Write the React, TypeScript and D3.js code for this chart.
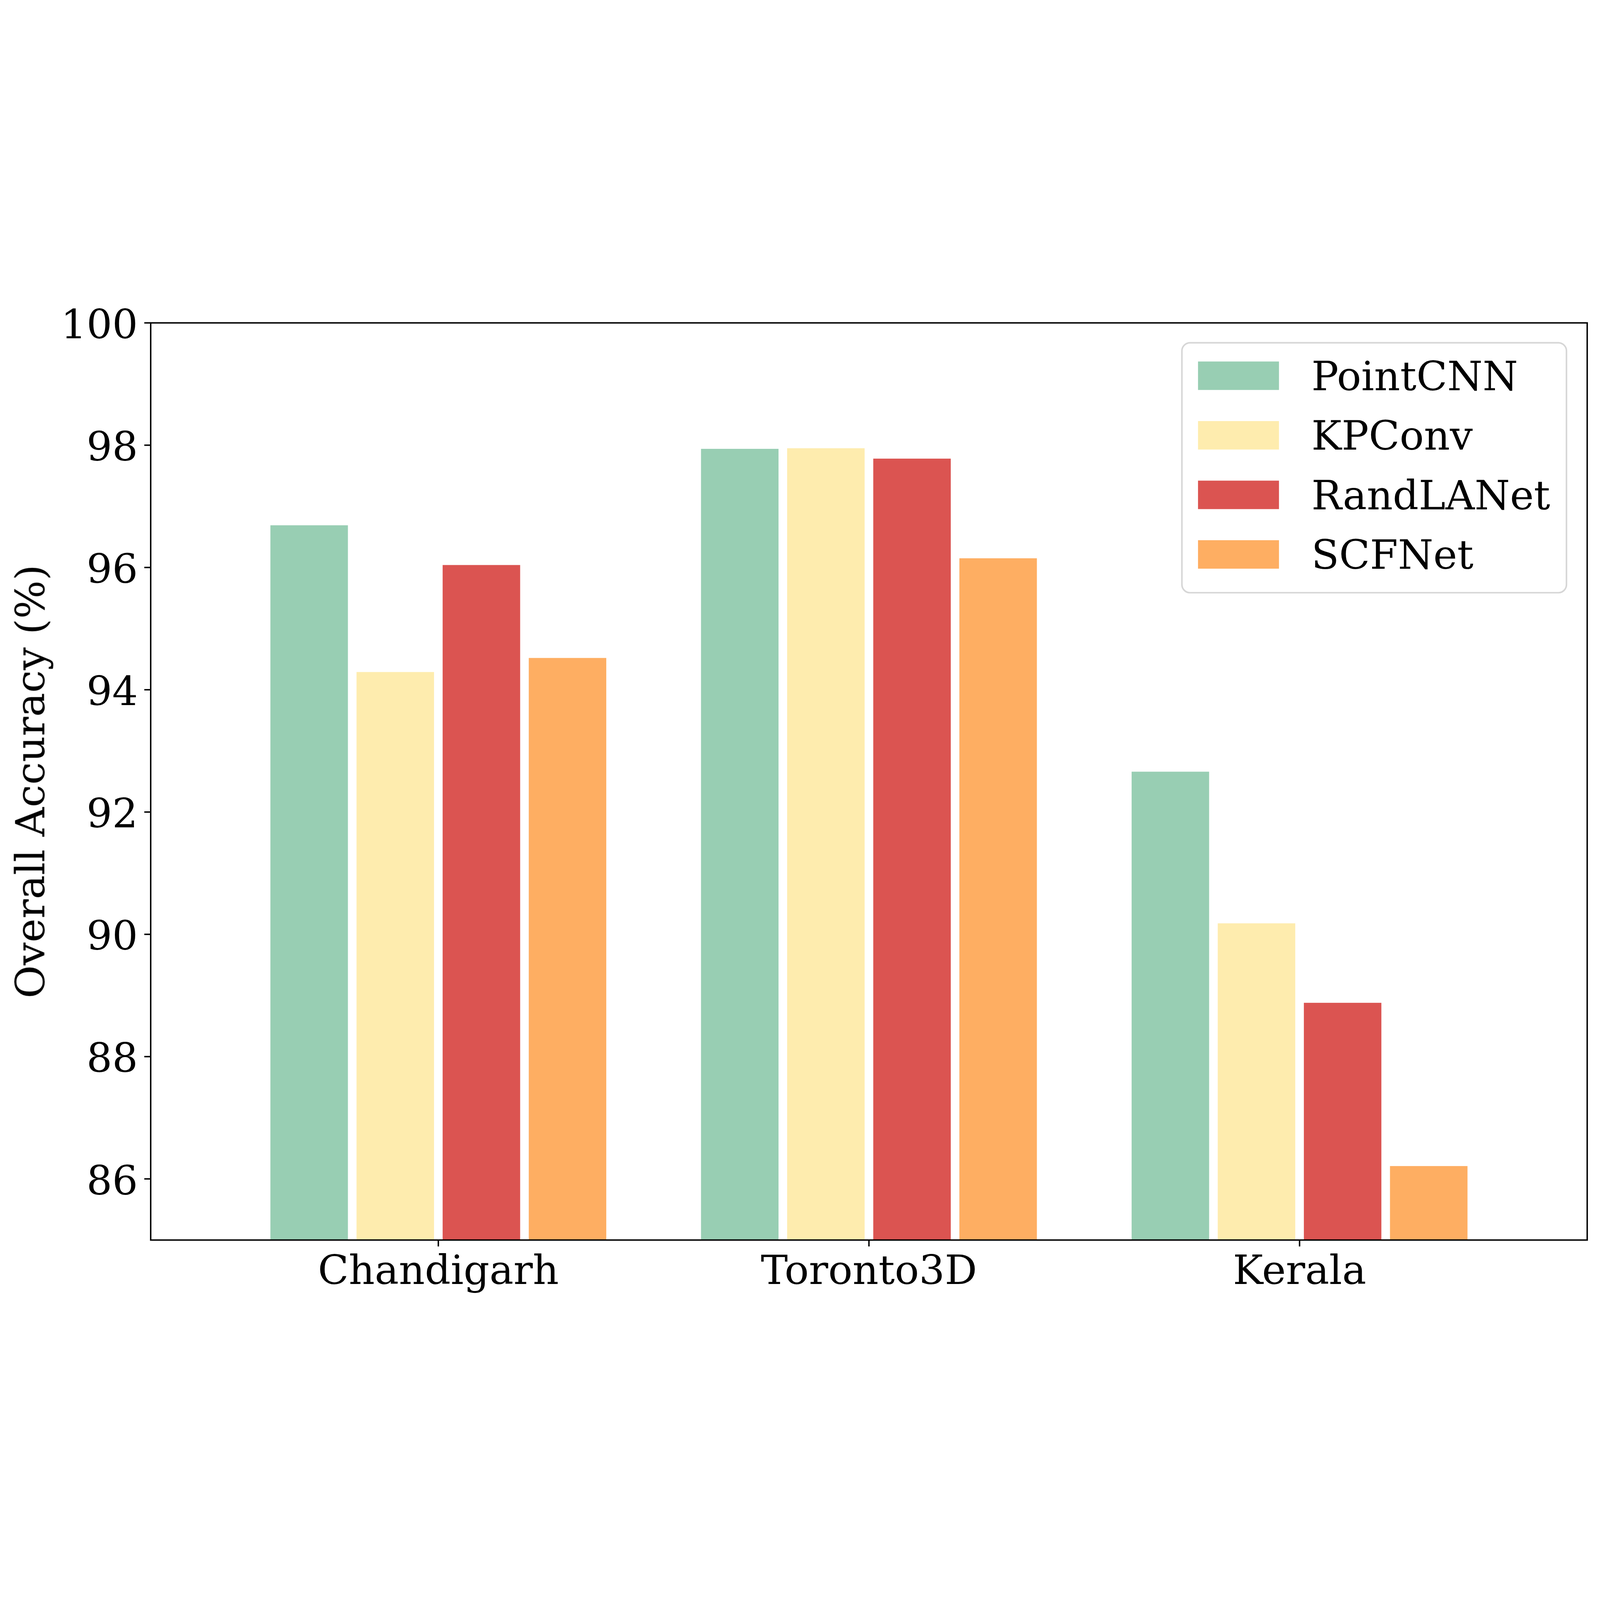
import React, { useEffect, useRef } from 'react';
import * as d3 from 'd3';

const datasets = ['Chandigarh', 'Toronto3D', 'Kerala'];
const methods = ['PointCNN', 'KPConv', 'RandLANet', 'SCFNet'];
const pointCNN = [96.69, 97.94, 92.66];
const kpConv = [94.29, 97.95, 90.18];
const randLANet = [96.04, 97.78, 88.88];
const scfNet = [94.52, 96.15, 86.21];
const methodColors = ['#98ceb3', '#feecae', '#db5451', '#feae62'];
const yTicks = [86, 88, 90, 92, 94, 96, 98, 100];

const W = 7252;
const H = 4587;
const FONT = '"DejaVu Serif", serif';
const FS = 183;

const App: React.FC = () => {
  const chartRef = useRef<SVGSVGElement | null>(null);

  useEffect(() => {
    const series = [pointCNN, kpConv, randLANet, scfNet];
    const left = 683, right = 7194, top = 131, bottom = 4288;
    const lw = 6.5;
    const tickLen = 29;

    const svg = d3.select(chartRef.current);
    svg.selectAll('*').remove();

    svg.append('rect').attr('width', W).attr('height', H).attr('fill', 'white');

    // category axis: groups at 0,1,2 with bars 0.18 wide, 0.2 apart
    const x = d3.scaleLinear().domain([-0.668, 2.668]).range([left, right]);
    const y = d3.scaleLinear().domain([85, 100]).range([bottom, top]);
    const barW = 0.18;
    const offsets = [-0.3, -0.1, 0.1, 0.3];

    const g = svg.append('g');
    series.forEach((vals, si) => {
      g.selectAll(`.bar-${si}`)
        .data(vals)
        .enter().append('rect')
        .attr('x', (_d, i) => x(i + offsets[si] - barW / 2))
        .attr('width', x(barW) - x(0))
        .attr('y', d => y(d))
        .attr('height', d => y(85) - y(d))
        .attr('fill', methodColors[si]);
    });

    // y ticks
    yTicks.forEach(t => {
      svg.append('line')
        .attr('x1', left - tickLen).attr('x2', left)
        .attr('y1', y(t)).attr('y2', y(t))
        .attr('stroke', 'black').attr('stroke-width', lw);
      svg.append('text')
        .attr('x', left - tickLen - 29)
        .attr('y', y(t) + 70)
        .attr('text-anchor', 'end')
        .style('font-family', FONT)
        .style('font-size', `${FS}px`)
        .attr('fill', 'black')
        .text(t);
    });

    // x ticks
    datasets.forEach((name, i) => {
      svg.append('line')
        .attr('x1', x(i)).attr('x2', x(i))
        .attr('y1', bottom).attr('y2', bottom + tickLen)
        .attr('stroke', 'black').attr('stroke-width', lw);
      svg.append('text')
        .attr('x', x(i))
        .attr('y', 4487)
        .attr('text-anchor', 'middle')
        .style('font-family', FONT)
        .style('font-size', `${FS}px`)
        .attr('fill', 'black')
        .text(name);
    });

    // frame
    svg.append('rect')
      .attr('x', left).attr('y', top)
      .attr('width', right - left).attr('height', bottom - top)
      .attr('fill', 'none')
      .attr('stroke', 'black')
      .attr('stroke-width', lw)
      .attr('stroke-linejoin', 'miter');

    svg.append('text')
      .attr('transform', `translate(201,${(top + bottom) / 2}) rotate(-90)`)
      .attr('text-anchor', 'middle')
      .style('font-family', FONT)
      .style('font-size', `${FS}px`)
      .attr('fill', 'black')
      .text('Overall Accuracy (%)');

    // legend
    const legend = svg.append('g');
    legend.append('rect')
      .attr('x', 5357).attr('y', 221)
      .attr('width', 7100 - 5357).attr('height', 1354 - 221)
      .attr('rx', 37).attr('ry', 37)
      .attr('fill', 'white')
      .attr('stroke', '#d6d6d6')
      .attr('stroke-width', 7);

    methods.forEach((m, i) => {
      const cy = 370 + i * 270;
      legend.append('rect')
        .attr('x', 5430).attr('y', cy - 64)
        .attr('width', 367).attr('height', 129)
        .attr('fill', methodColors[i]);
      legend.append('text')
        .attr('x', 5944)
        .attr('y', cy + 66)
        .style('font-family', FONT)
        .style('font-size', `${FS}px`)
        .attr('fill', 'black')
        .text(m);
    });
  }, []);

  return (
    <svg
      ref={chartRef}
      viewBox={`0 0 ${W} ${H}`}
      preserveAspectRatio="xMidYMid meet"
      style={{ position: 'fixed', left: 0, top: 0, width: '100vw', height: '100vh', display: 'block' }}
    />
  );
};

export default App;
